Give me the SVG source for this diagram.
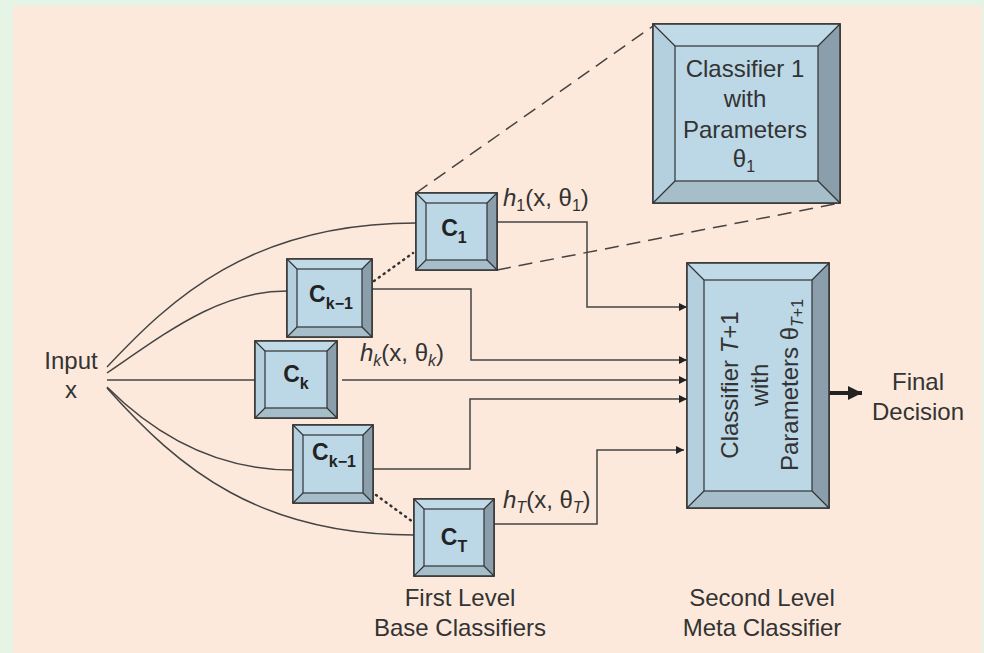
<svg xmlns="http://www.w3.org/2000/svg" width="984" height="653" viewBox="0 0 984 653">
<defs>
<style>
.t{font-family:"Liberation Sans",Arial,sans-serif;fill:#333;font-size:24px}
.c{font-family:"Liberation Sans",Arial,sans-serif;fill:#222;font-size:23px;font-weight:bold;text-anchor:middle}
.s{font-size:16px}
.face{fill:#bcd7e5;stroke:#333;stroke-width:1.5}
.top{fill:#c0dae8}
.lef{fill:#b4d0df}
.rig{fill:#8a9eab}
.bot{fill:#a6bdca}
.in{fill:none;stroke:#333;stroke-width:1.2}
.dg{stroke:#333;stroke-width:1.2}
.ln{fill:none;stroke:#444;stroke-width:1.5}
.dash{fill:none;stroke:#444;stroke-width:1.5;stroke-dasharray:14 8}
.dot{fill:none;stroke:#333;stroke-width:2.5;stroke-dasharray:1 5;stroke-linecap:round}
</style>
<marker id="ah" viewBox="0 0 10 10" refX="10" refY="5" markerWidth="10" markerHeight="8" markerUnits="userSpaceOnUse" orient="auto">
<path d="M0,0 L10,5 L0,10 z" fill="#222"/>
</marker>
<marker id="ahb" viewBox="0 0 10 10" refX="10" refY="5" markerWidth="14" markerHeight="14" markerUnits="userSpaceOnUse" orient="auto">
<path d="M0,0 L10,5 L0,10 z" fill="#222"/>
</marker>
</defs>
<rect x="0" y="0" width="984" height="653" fill="#e6f4e5"/>
<rect x="13" y="6" width="969" height="647" fill="#fce9db"/>

<g id="connectors">
<path class="ln" d="M107,367 C170,300 250,223 416,223"/>
<path class="ln" d="M107,373 C170,330 220,291 287,291"/>
<path class="ln" d="M107,380 L255,380"/>
<path class="ln" d="M107,387 C160,440 220,470 293,470"/>
<path class="ln" d="M107,388 C180,470 260,535 414,535"/>
<path class="ln" d="M497,222 H587 V307 H687" marker-end="url(#ah)"/>
<path class="ln" d="M372,289 H471 V360 H687" marker-end="url(#ah)"/>
<path class="ln" d="M342,380 H687" marker-end="url(#ah)"/>
<path class="ln" d="M373,469 H470 V399 H687" marker-end="url(#ah)"/>
<path class="ln" d="M494,524 H597 V450 H684" marker-end="url(#ah)"/>
<path class="dash" d="M416,193 L653,26"/>
<path class="dash" d="M497,270 L840,203"/>
<path class="dot" d="M374,281 L413,253"/>
<path class="dot" d="M376,495 L413,522"/>
<path fill="none" stroke="#222" stroke-width="4" d="M829,393 H862" marker-end="url(#ahb)"/>
</g>

<g id="C1">
<rect class="face" x="416" y="193" width="81" height="77"/>
<polygon class="top" points="416,193 497,193 487,203 426,203"/>
<polygon class="lef" points="416,193 426,203 426,260 416,270"/>
<polygon class="rig" points="497,193 497,270 487,260 487,203"/>
<polygon class="bot" points="416,270 426,260 487,260 497,270"/>
<rect class="in" x="426" y="203" width="61" height="57"/>
<path class="dg" d="M416,193 L426,203 M497,193 L487,203 M416,270 L426,260 M497,270 L487,260"/>
<rect x="416" y="193" width="81" height="77" fill="none" stroke="#333" stroke-width="1.5"/>
<text class="c" x="454" y="236">C<tspan class="s" dy="7">1</tspan></text>
</g>

<g id="Ck1_upper">
<rect class="face" x="287" y="259" width="85" height="78"/>
<polygon class="top" points="287,259 372,259 362,269 297,269"/>
<polygon class="lef" points="287,259 297,269 297,327 287,337"/>
<polygon class="rig" points="372,259 372,337 362,327 362,269"/>
<polygon class="bot" points="287,337 297,327 362,327 372,337"/>
<rect class="in" x="297" y="269" width="65" height="58"/>
<path class="dg" d="M287,259 L297,269 M372,259 L362,269 M287,337 L297,327 M372,337 L362,327"/>
<rect x="287" y="259" width="85" height="78" fill="none" stroke="#333" stroke-width="1.5"/>
<text class="c" x="331" y="302">C<tspan class="s" dy="7">k−1</tspan></text>
</g>

<g id="Ck">
<rect class="face" x="255" y="341" width="82" height="77"/>
<polygon class="top" points="255,341 337,341 327,351 265,351"/>
<polygon class="lef" points="255,341 265,351 265,408 255,418"/>
<polygon class="rig" points="337,341 337,418 327,408 327,351"/>
<polygon class="bot" points="255,418 265,408 327,408 337,418"/>
<rect class="in" x="265" y="351" width="62" height="57"/>
<path class="dg" d="M255,341 L265,351 M337,341 L327,351 M255,418 L265,408 M337,418 L327,408"/>
<rect x="255" y="341" width="82" height="77" fill="none" stroke="#333" stroke-width="1.5"/>
<text class="c" x="296" y="382">C<tspan class="s" dy="7">k</tspan></text>
</g>

<g id="Ck1_lower">
<rect class="face" x="293" y="425" width="80" height="78"/>
<polygon class="top" points="293,425 373,425 363,435 303,435"/>
<polygon class="lef" points="293,425 303,435 303,493 293,503"/>
<polygon class="rig" points="373,425 373,503 363,493 363,435"/>
<polygon class="bot" points="293,503 303,493 363,493 373,503"/>
<rect class="in" x="303" y="435" width="60" height="58"/>
<path class="dg" d="M293,425 L303,435 M373,425 L363,435 M293,503 L303,493 M373,503 L363,493"/>
<rect x="293" y="425" width="80" height="78" fill="none" stroke="#333" stroke-width="1.5"/>
<text class="c" x="334" y="460">C<tspan class="s" dy="7">k−1</tspan></text>
</g>

<g id="CT">
<rect class="face" x="414" y="499" width="80" height="77"/>
<polygon class="top" points="414,499 494,499 484,509 424,509"/>
<polygon class="lef" points="414,499 424,509 424,566 414,576"/>
<polygon class="rig" points="494,499 494,576 484,566 484,509"/>
<polygon class="bot" points="414,576 424,566 484,566 494,576"/>
<rect class="in" x="424" y="509" width="60" height="57"/>
<path class="dg" d="M414,499 L424,509 M494,499 L484,509 M414,576 L424,566 M494,576 L484,566"/>
<rect x="414" y="499" width="80" height="77" fill="none" stroke="#333" stroke-width="1.5"/>
<text class="c" x="454" y="545">C<tspan class="s" dy="7">T</tspan></text>
</g>

<g id="Classifier1">
<rect class="face" x="653" y="24" width="187" height="179"/>
<polygon class="top" points="653,24 840,24 818,46 675,46"/>
<polygon class="lef" points="653,24 675,46 675,181 653,203"/>
<polygon class="rig" points="840,24 840,203 818,181 818,46"/>
<polygon class="bot" points="653,203 675,181 818,181 840,203"/>
<rect class="in" x="675" y="46" width="143" height="135"/>
<path class="dg" d="M653,24 L675,46 M840,24 L818,46 M653,203 L675,181 M840,203 L818,181"/>
<rect x="653" y="24" width="187" height="179" fill="none" stroke="#333" stroke-width="1.5"/>
<g class="t" style="text-anchor:middle">
<text x="745" y="77">Classifier 1</text>
<text x="745" y="107">with</text>
<text x="745" y="138">Parameters</text>
<text x="744" y="167">θ<tspan class="s" dy="5">1</tspan></text>
</g>
</g>

<g id="MetaClassifier">
<rect class="face" x="687" y="263" width="142" height="245"/>
<polygon class="top" points="687,263 829,263 812,280 704,280"/>
<polygon class="lef" points="687,263 704,280 704,491 687,508"/>
<polygon class="rig" points="829,263 829,508 812,491 812,280"/>
<polygon class="bot" points="687,508 704,491 812,491 829,508"/>
<rect class="in" x="704" y="280" width="108" height="211"/>
<path class="dg" d="M687,263 L704,280 M829,263 L812,280 M687,508 L704,491 M829,508 L812,491"/>
<rect x="687" y="263" width="142" height="245" fill="none" stroke="#333" stroke-width="1.5"/>
<g transform="translate(758,385) rotate(-90)" class="t" style="text-anchor:middle">
<text x="0" y="-20">Classifier <tspan font-style="italic">T</tspan>+1</text>
<text x="0" y="10">with</text>
<text x="0" y="40">Parameters θ<tspan class="s" dy="5"><tspan font-style="italic">T</tspan>+1</tspan></text>
</g>
</g>

<g id="labels" class="t">
<text x="503" y="206"><tspan font-style="italic">h</tspan><tspan class="s" dy="5">1</tspan><tspan dy="-5">(x, θ</tspan><tspan class="s" dy="5">1</tspan><tspan dy="-5">)</tspan></text>
<text x="360" y="361"><tspan font-style="italic">h</tspan><tspan class="s" dy="5" font-style="italic">k</tspan><tspan dy="-5">(x, θ</tspan><tspan class="s" dy="5" font-style="italic">k</tspan><tspan dy="-5">)</tspan></text>
<text x="503" y="508"><tspan font-style="italic">h</tspan><tspan class="s" dy="5" font-style="italic">T</tspan><tspan dy="-5">(x, θ</tspan><tspan class="s" dy="5" font-style="italic">T</tspan><tspan dy="-5">)</tspan></text>
</g>

<g id="input" class="t" style="text-anchor:middle">
<text x="71" y="369">Input</text>
<text x="71" y="398">x</text>
</g>

<g id="final" class="t" style="text-anchor:middle">
<text x="918" y="390">Final</text>
<text x="918" y="420">Decision</text>
</g>

<g id="bottom_labels" class="t" style="text-anchor:middle">
<text x="460" y="606">First Level</text>
<text x="460" y="636">Base Classifiers</text>
<text x="762" y="606">Second Level</text>
<text x="762" y="636">Meta Classifier</text>
</g>
</svg>
